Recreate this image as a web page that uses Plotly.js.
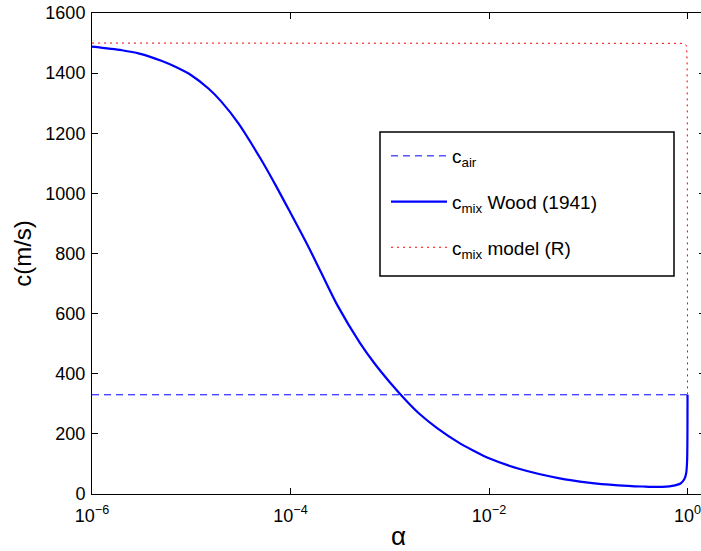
<!DOCTYPE html>
<html>
<head>
<meta charset="utf-8">
<script src="https://cdn.plot.ly/plotly-3.0.1.min.js"></script>
<style>
  html, body { margin: 0; padding: 0; overflow: hidden; background: #fff; }
  #chart { width: 705px; height: 551px; }
</style>
</head>
<body>
<div id="chart"></div>
<script>
// Void fraction alpha and sound speeds (m/s)
const alphaAir = [1e-6, 1];
const cAir = [330, 330];

const alphaWood = [1e-6, 2e-6, 3e-6, 5e-6, 7e-6, 1e-5, 1.5e-5, 2e-5, 3e-5, 5e-5, 7e-5,
  1e-4, 1.5e-4, 2e-4, 3e-4, 5e-4, 7e-4, 1e-3, 1.5e-3, 2e-3, 3e-3, 5e-3, 7e-3,
  1e-2, 2e-2, 5e-2, 0.1, 0.2, 0.35, 0.5, 0.7, 0.85, 0.93, 0.97, 0.99, 0.997, 0.999, 1];
const cWood = [1488, 1476, 1465, 1441, 1420, 1393, 1348, 1306, 1232, 1115, 1030,
  935, 825, 742, 625, 503, 435, 372, 307, 266, 219, 170, 144,
  119, 84, 53, 38, 29, 25, 23.5, 27, 35, 50, 70, 110, 180, 245, 330];

const alphaModel = [1e-6, 1e-5, 1e-4, 1e-3, 1e-2, 0.1, 0.5, 0.9, 0.95, 0.97, 0.98, 0.99, 0.995, 0.999, 1];
const cModel = [1500, 1500, 1500, 1500, 1500, 1500, 1500, 1499, 1496, 1492, 1485, 1440, 1250, 750, 330];

const xTickVals = [1e-6, 1e-4, 1e-2, 1];
const xTickText = ['10<sup>\u22126</sup>', '10<sup>\u22124</sup>', '10<sup>\u22122</sup>', '10<sup>0</sup>'];

const traces = [
  {
    x: alphaAir, y: cAir, type: 'scatter', mode: 'lines',
    name: 'c<sub>air</sub>', legendgroup: 'a',
    line: { color: '#0000ff', width: 1, dash: '7px,5px' }
  },
  {
    x: alphaWood, y: cWood, type: 'scatter', mode: 'lines',
    name: 'c<sub>mix</sub> Wood (1941)', legendgroup: 'b',
    line: { color: '#0000ff', width: 2.2, shape: 'spline', smoothing: 0.8 }
  },
  {
    x: alphaModel, y: cModel, type: 'scatter', mode: 'lines',
    name: 'c<sub>mix</sub> model (R)', legendgroup: 'c',
    line: { color: '#ff0000', width: 1, dash: '2px,4px' }
  }
];

const font = { family: 'Liberation Sans, Arial, Helvetica, sans-serif', color: '#000' };

const layout = {
  width: 705, height: 551,
  margin: { l: 92, r: 0, t: 13, b: 57 },
  paper_bgcolor: '#fff', plot_bgcolor: '#fff',
  font: Object.assign({ size: 18 }, font),
  showlegend: true,
  legend: {
    x: (385 - 92) / 613, y: (494 - 136) / 481, xanchor: 'left', yanchor: 'top',
    bgcolor: 'rgba(0,0,0,0)', bordercolor: 'rgba(0,0,0,0)', borderwidth: 1,
    font: Object.assign({ size: 19 }, font),
    itemwidth: 56, tracegroupgap: 18, traceorder: 'grouped'
  },
  shapes: [
    {
      type: 'rect', xref: 'paper', yref: 'paper', layer: 'below',
      x0: (380 - 92) / 613, x1: (674 - 92) / 613,
      y0: (494 - 276) / 481, y1: (494 - 132) / 481,
      line: { color: '#000', width: 1.5 }, fillcolor: '#fff'
    }
  ],
  xaxis: {
    type: 'log', range: [-6, 0.176],
    tickvals: xTickVals, ticktext: xTickText,
    ticks: 'inside', ticklen: 6, tickwidth: 1, tickcolor: '#000',
    showline: true, linecolor: '#000', linewidth: 1, mirror: 'ticks',
    showgrid: false, zeroline: false,
    tickfont: Object.assign({ size: 18 }, font),
    ticklabelstandoff: 5,
    title: { text: '\u03b1', font: Object.assign({ size: 26 }, font), standoff: 15 },
    automargin: false
  },
  yaxis: {
    range: [0, 1600], dtick: 200, tick0: 0,
    ticks: 'inside', ticklen: 6, tickwidth: 1, tickcolor: '#000',
    showline: true, linecolor: '#000', linewidth: 1, mirror: 'ticks',
    showgrid: false, zeroline: false,
    tickfont: Object.assign({ size: 18 }, font),
    ticklabelstandoff: 2,
    title: { text: 'c(m/s)', font: Object.assign({ size: 24 }, font), standoff: 6 },
    automargin: false
  }
};

Plotly.newPlot('chart', traces, layout, { displayModeBar: false, staticPlot: true });
</script>
</body>
</html>
